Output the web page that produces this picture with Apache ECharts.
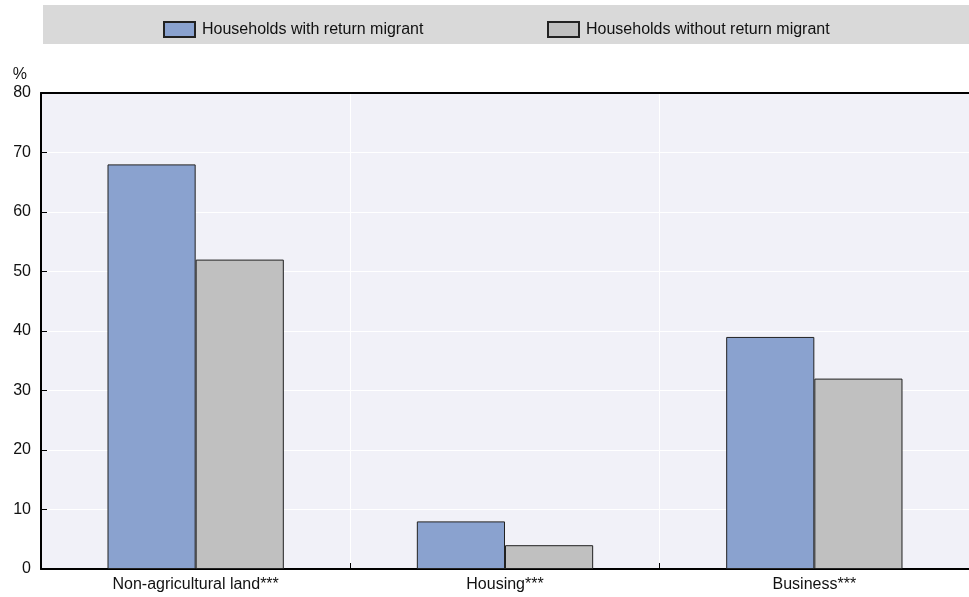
<!DOCTYPE html>
<html>
<head>
<meta charset="utf-8">
<script src="https://cdn.jsdelivr.net/npm/echarts@6/dist/echarts.min.js"></script>
<style>html,body{margin:0;padding:0;background:#fff}#c{width:969px;height:597px}</style>
</head>
<body>
<div id="c"></div>
<script>
const categories = ['Non-agricultural land***', 'Housing***', 'Business***'];
const withReturn = [68, 8, 39];
const withoutReturn = [52, 4, 32];
const seriesNames = ['Households with return migrant', 'Households without return migrant'];
const yTicks = { min: 0, max: 80, interval: 10 };

const FONT = "'Liberation Sans Narrow','Arial Narrow','Liberation Sans',Arial,sans-serif";
const TXT = '#111';
const chart = echarts.init(document.getElementById('c'), null, { renderer: 'canvas' });
const legendBase = { itemWidth: 31, itemHeight: 15, itemGap: 0, icon: 'rect', selectedMode: false,
  textStyle: { fontFamily: FONT, fontSize: 16, color: TXT, padding: [0, 0, 0, 2] } };
chart.setOption({
  animation: false,
  textStyle: { fontFamily: FONT },
  graphic: [
    { type: 'rect', shape: { x: 43, y: 5, width: 926, height: 39 }, style: { fill: '#d9d9d9' }, z: -10 }
  ],
  legend: [
    Object.assign({ data: [seriesNames[0]], left: 158, top: 16 }, legendBase),
    Object.assign({ data: [seriesNames[1]], left: 542, top: 16 }, legendBase)
  ],
  grid: { left: 41, right: 0, top: 93, bottom: 28, show: true, backgroundColor: '#f1f1f8', borderWidth: 0 },
  xAxis: [
    { type: 'category', data: categories,
      axisLine: { lineStyle: { color: '#000', width: 2 } },
      axisTick: { show: true, inside: true, length: 6, lineStyle: { color: '#000' } },
      axisLabel: { fontFamily: FONT, fontSize: 16, color: TXT, margin: 8 },
      splitLine: { show: true, lineStyle: { color: '#fff', width: 1 } } },
    { type: 'category', data: categories, position: 'top',
      axisLine: { lineStyle: { color: '#000', width: 2 } },
      axisTick: { show: false }, axisLabel: { show: false }, splitLine: { show: false } }
  ],
  yAxis: {
    type: 'value', min: yTicks.min, max: yTicks.max, interval: yTicks.interval,
    name: '%', nameLocation: 'end', nameGap: 10,
    nameTextStyle: { fontFamily: FONT, fontSize: 16, color: TXT, align: 'right', padding: [0, 14, 0, 0] },
    axisLine: { show: true, lineStyle: { color: '#000', width: 2 } },
    axisTick: { show: true, inside: true, length: 6, lineStyle: { color: '#000' } },
    axisLabel: { fontFamily: FONT, fontSize: 16, color: TXT, margin: 10 },
    splitLine: { show: true, lineStyle: { color: '#fff', width: 1 } }
  },
  series: [
    { name: seriesNames[0], type: 'bar', data: withReturn, barGap: '0%', barCategoryGap: '43%',
      itemStyle: { color: '#8aa2cf', borderColor: '#222', borderWidth: 1 } },
    { name: seriesNames[1], type: 'bar', data: withoutReturn,
      itemStyle: { color: '#c0c0c0', borderColor: '#222', borderWidth: 1 } }
  ]
});
</script>
</body>
</html>
